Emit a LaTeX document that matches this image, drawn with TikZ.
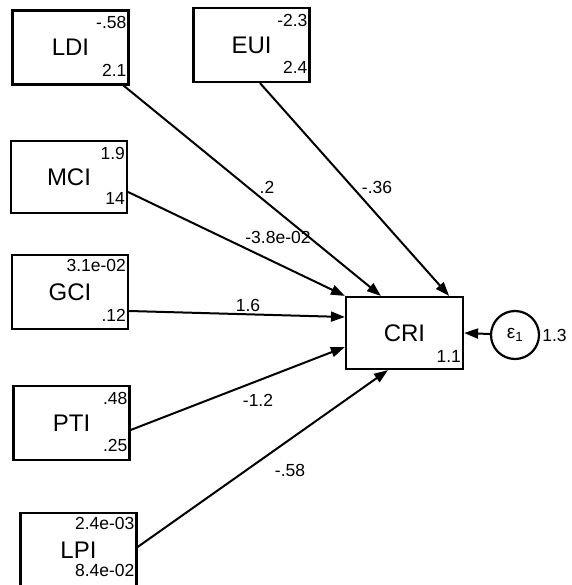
\documentclass[tikz,border=0pt]{standalone}
\usepackage{fontspec}
\setmainfont{Liberation Sans}
\usetikzlibrary{arrows.meta,shapes,positioning}

\begin{document}
\begin{tikzpicture}[x=1pt, y=-1pt, >={Triangle[length=14pt,width=10pt]},
    every node/.style={font=\fontsize{17.5}{19}\selectfont},
    varbox/.style={draw, line width=2.2pt, minimum width=116pt, minimum height=74pt, font=\fontsize{24}{26}\selectfont},
    num/.style={inner sep=0pt},
    path/.style={->, line width=2pt}]
    \useasboundingbox (0,0) rectangle (571,585);
    % exogenous variables
    \node[varbox] (ldi) at (70.5, 47.5) {LDI};
    \node[varbox] (eui) at (251.5, 45) {EUI};
    \node[varbox, minimum height=72pt] (mci) at (69, 177) {MCI};
    \node[varbox] (gci) at (70, 292) {GCI};
    \node[varbox] (pti) at (71.5, 423) {PTI};
    \node[varbox] (lpi) at (78.5, 550) {LPI};
    % means and variances
    \node[num, anchor=north east] (ldiM) at ([xshift=-3pt, yshift=-7pt]ldi.north east) {-.58};
    \node[num, anchor=south east] (ldiV) at ([xshift=-3pt, yshift=9pt]ldi.south east) {2.1};
    \node[num, anchor=north east] (euiM) at ([xshift=-3pt, yshift=-7pt]eui.north east) {-2.3};
    \node[num, anchor=south east] (euiV) at ([xshift=-3pt, yshift=9pt]eui.south east) {2.4};
    \node[num, anchor=north east] (mciM) at ([xshift=-3pt, yshift=-7pt]mci.north east) {1.9};
    \node[num, anchor=south east] (mciV) at ([xshift=-3pt, yshift=9pt]mci.south east) {14};
    \node[num, anchor=north east] (gciM) at ([xshift=-3pt, yshift=-5pt]gci.north east) {3.1e-02};
    \node[num, anchor=south east] (gciV) at ([xshift=-3pt, yshift=8pt]gci.south east) {.12};
    \node[num, anchor=north east] (ptiM) at ([xshift=-3pt, yshift=-7pt]pti.north east) {.48};
    \node[num, anchor=south east] (ptiV) at ([xshift=-3pt, yshift=9pt]pti.south east) {.25};
    \node[num, anchor=north east] (lpiM) at ([xshift=-3pt, yshift=-5pt]lpi.north east) {2.4e-03};
    \node[num, anchor=south east] (lpiV) at ([xshift=-3pt, yshift=11pt]lpi.south east) {8.4e-02};
    % endogenous variable and error
    \node[varbox, minimum width=117pt, minimum height=72pt] (cri) at (404.5, 333) {CRI};
    \node[num, anchor=south east] (criV) at ([xshift=-3pt, yshift=7pt]cri.south east) {1.1};
    \node[draw, circle, line width=2.2pt, minimum size=48pt, inner sep=0pt, font=\fontsize{19}{21}\selectfont] (eps) at (515, 335) {ε\textsubscript{1}};
    \node[anchor=west, inner sep=2pt] (epsV) at (eps.east) {1.3};
    % paths
    \draw[path] ([xshift=-6pt]ldi.south east) -- ([xshift=36pt]cri.north west);
    \draw[path] ([xshift=8.5pt]eui.south) -- ([xshift=-15pt]cri.north east);
    \draw[path] ([yshift=-15pt]mci.east) -- (cri.north west);
    \draw[path] ([yshift=-19pt]gci.east) -- ([yshift=16pt]cri.west);
    \draw[path] ([yshift=-7pt]pti.east) -- ([yshift=-14pt]cri.west);
    \draw[path] ([yshift=3pt]lpi.east) -- ([xshift=-16.5pt]cri.south);
    \draw[path] (eps) -- (cri.east);
    % coefficients
    \node (wLDI) at (267, 187) {.2};
    \node (wEUI) at (377, 187) {-.36};
    \node (wMCI) at (278, 237) {-3.8e-02};
    \node (wGCI) at (248, 305) {1.6};
    \node (wPTI) at (258, 400) {-1.2};
    \node (wLPI) at (290, 470) {-.58};
\end{tikzpicture}
\end{document}
